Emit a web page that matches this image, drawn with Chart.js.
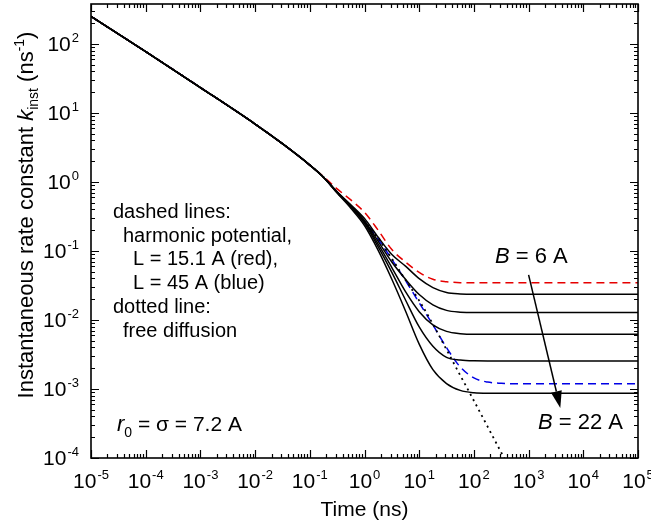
<!DOCTYPE html>
<html>
<head>
<meta charset="utf-8">
<script src="https://cdn.jsdelivr.net/npm/chart.js@4.4.0/dist/chart.umd.min.js"></script>
<style>
  html, body { margin: 0; padding: 0; background: #fff; }
  #wrap { width: 651px; height: 526px; }
</style>
</head>
<body>
<div id="wrap"><canvas id="rate-chart" width="651" height="526"></canvas></div>
<script>
// time axis (ns) shared by all curves
const times = [1e-5, 1e-4, 1e-3, 1e-2, 0.0316, 0.1, 0.178, 0.316, 0.562, 1, 1.78, 3.16, 5.62, 10, 17.8, 31.6, 56.2, 100, 178, 316, 1000, 1e4, 1e5];

// k_inst (ns^-1)
const freeDiffusion = [251, 77.6, 23.4, 6.92, 3.59, 1.76, 1.175, 0.708, 0.447, 0.269, 0.151, 0.0776, 0.038, 0.0191, 0.0087, 0.00372, 0.00158, 0.000676, 0.000285, 0.00012, 0.0000214, null, null];
const harmonicRed  = [251, 77.6, 23.4, 6.92, 3.59, 1.76, 1.20, 0.794, 0.550, 0.363, 0.200, 0.105, 0.0692, 0.0490, 0.0389, 0.0359, 0.0348, 0.0347, 0.0347, 0.0347, 0.0347, 0.0347, 0.0347];
const harmonicBlue = [251, 77.6, 23.4, 6.92, 3.59, 1.76, 1.175, 0.708, 0.447, 0.269, 0.148, 0.0759, 0.0372, 0.0178, 0.0085, 0.00398, 0.00209, 0.00145, 0.00126, 0.00121, 0.00119, 0.00119, 0.00119];
const b6  = [251, 77.6, 23.4, 6.92, 3.59, 1.76, 1.175, 0.724, 0.468, 0.295, 0.158, 0.0891, 0.0603, 0.0398, 0.0295, 0.0251, 0.0239, 0.0236, 0.0236, 0.0236, 0.0236, 0.0236, 0.0236];
const b2  = [251, 77.6, 23.4, 6.92, 3.59, 1.76, 1.175, 0.716, 0.457, 0.275, 0.138, 0.0692, 0.0389, 0.0234, 0.0166, 0.0138, 0.0130, 0.0128, 0.0128, 0.0128, 0.0128, 0.0128, 0.0128];
const b3  = [251, 77.6, 23.4, 6.92, 3.59, 1.76, 1.175, 0.708, 0.447, 0.263, 0.126, 0.0575, 0.0257, 0.0132, 0.0085, 0.00684, 0.00634, 0.0062, 0.0062, 0.0062, 0.0062, 0.0062, 0.0062];
const b4  = [251, 77.6, 23.4, 6.92, 3.59, 1.76, 1.175, 0.700, 0.437, 0.251, 0.115, 0.0490, 0.0195, 0.00794, 0.00417, 0.00288, 0.00263, 0.00256, 0.00255, 0.00255, 0.00255, 0.00255, 0.00255];
const b22 = [251, 77.6, 23.4, 6.92, 3.59, 1.76, 1.175, 0.692, 0.417, 0.234, 0.102, 0.0389, 0.0135, 0.00447, 0.00191, 0.00120, 0.000955, 0.000881, 0.000867, 0.000867, 0.000867, 0.000867, 0.000867];

// decade exponents used for the tick labels
const xTickExps = [-5, -4, -3, -2, -1, 0, 1, 2, 3, 4, 5];
const yTickExps = [-4, -3, -2, -1, 0, 1, 2];

// arrow from B = 6 A to B = 22 A, in data units
const arrowFrom = {x: 1000, y: 0.045};
const arrowTo = {x: 3800, y: 0.00053};

const FONT = '"Liberation Sans", Arial, sans-serif';

function toPoints(vals) {
    return times.map((t, i) => ({x: t, y: vals[i]}));
}

function line(label, vals, color, dash, width) {
    return {
        label: label,
        data: toPoints(vals),
        borderColor: color,
        borderWidth: width || 1.5,
        borderDash: dash || [],
        pointRadius: 0,
        fill: false,
        cubicInterpolationMode: 'monotone'
    };
}

// draws "10" with a raised exponent, anchored at x by align
function drawPow(ctx, exp, x, base, align) {
    const big = '21px ' + FONT, small = '13px ' + FONT;
    const e = String(exp);
    ctx.font = big;
    const w1 = ctx.measureText('10').width;
    ctx.font = small;
    const w2 = ctx.measureText(e).width + 1;
    let left = x;
    if (align === 'center') left = x - (w1 + w2) / 2;
    if (align === 'right') left = x - (w1 + w2);
    ctx.textAlign = 'left';
    ctx.textBaseline = 'alphabetic';
    ctx.font = big;
    ctx.fillText('10', left, base);
    ctx.font = small;
    ctx.fillText(e, left + w1 + 1, base - 9);
}

// draws a run of [text, font, dy] pieces from x
function drawRun(ctx, pieces, x, y) {
    ctx.textAlign = 'left';
    ctx.textBaseline = 'alphabetic';
    let cx = x;
    pieces.forEach(p => {
        ctx.font = p[1];
        ctx.fillText(p[0], cx, y + (p[2] || 0));
        cx += ctx.measureText(p[0]).width;
    });
    return cx - x;
}

function runWidth(ctx, pieces) {
    let w = 0;
    pieces.forEach(p => { ctx.font = p[1]; w += ctx.measureText(p[0]).width; });
    return w;
}

const framePlugin = {
    id: 'frame',
    afterDatasetsDraw(chart) {
        const {ctx, chartArea: a, scales: {x, y}} = chart;
        ctx.save();
        ctx.strokeStyle = '#000';
        ctx.fillStyle = '#000';

        // inward ticks on all four sides
        ctx.lineWidth = 1.2;
        ctx.beginPath();
        for (let e = -5; e <= 5; e++) {
            for (let m = 1; m < 10; m++) {
                const v = m * Math.pow(10, e);
                if (v > x.max * 1.0001) break;
                const px = Math.round(x.getPixelForValue(v)) + 0.5;
                const len = m === 1 ? 8 : 4;
                ctx.moveTo(px, a.bottom); ctx.lineTo(px, a.bottom - len);
                ctx.moveTo(px, a.top); ctx.lineTo(px, a.top + len);
            }
        }
        for (let e = -4; e <= 2; e++) {
            for (let m = 1; m < 10; m++) {
                const v = m * Math.pow(10, e);
                if (v > y.max * 1.0001) break;
                const py = Math.round(y.getPixelForValue(v)) + 0.5;
                const len = m === 1 ? 8 : 4;
                ctx.moveTo(a.left, py); ctx.lineTo(a.left + len, py);
                ctx.moveTo(a.right, py); ctx.lineTo(a.right - len, py);
            }
        }
        ctx.stroke();

        // frame
        ctx.lineWidth = 1.6;
        ctx.strokeRect(a.left, a.top, a.right - a.left, a.bottom - a.top);

        // tick labels
        xTickExps.forEach(e => drawPow(ctx, e, x.getPixelForValue(Math.pow(10, e)), a.bottom + 30, 'center'));
        yTickExps.forEach(e => drawPow(ctx, e, a.left - 12, y.getPixelForValue(Math.pow(10, e)) + 7, 'right'));

        // axis titles
        ctx.font = '21px ' + FONT;
        ctx.textAlign = 'center';
        ctx.fillText('Time (ns)', (a.left + a.right) / 2, a.bottom + 58);

        const title = [
            ['Instantaneous rate constant ', '22px ' + FONT],
            ['k', 'italic 22px ' + FONT],
            ['inst', '14px ' + FONT, 5],
            [' (ns', '22px ' + FONT],
            ['-1', '14px ' + FONT, -9],
            [')', '22px ' + FONT]
        ];
        ctx.save();
        ctx.translate(33, 215);
        ctx.rotate(-Math.PI / 2);
        drawRun(ctx, title, -runWidth(ctx, title) / 2, 0);
        ctx.restore();

        // notes
        const f = '20px ' + FONT;
        const notes = [
            ['dashed lines:', 0],
            ['harmonic potential,', 10],
            ['L = 15.1 A (red),', 20],
            ['L = 45 A (blue)', 20],
            ['dotted line:', 0],
            ['free diffusion', 10]
        ];
        notes.forEach((n, i) => drawRun(ctx, [[n[0], f]], a.left + 22 + n[1], 218 + i * 23.7));

        const g = '22px ' + FONT, gi = 'italic 22px ' + FONT, gs = '14px ' + FONT;
        drawRun(ctx, [['r', gi], ['0', gs, 6], [' = \u03c3 = 7.2 A', '21px ' + FONT]], a.left + 26, 431);
        drawRun(ctx, [['B', gi], [' = 6 A', g]], 495, 263);
        drawRun(ctx, [['B', gi], [' = 22 A', g]], 538, 429);

        // arrow
        const x0 = x.getPixelForValue(arrowFrom.x), y0 = y.getPixelForValue(arrowFrom.y);
        const x1 = x.getPixelForValue(arrowTo.x), y1 = y.getPixelForValue(arrowTo.y);
        const ang = Math.atan2(y1 - y0, x1 - x0);
        const hl = 17, hw = 5.5;
        const bx = x1 - hl * Math.cos(ang), by = y1 - hl * Math.sin(ang);
        ctx.lineWidth = 1.5;
        ctx.beginPath();
        ctx.moveTo(x0, y0);
        ctx.lineTo(bx, by);
        ctx.stroke();
        ctx.beginPath();
        ctx.moveTo(x1, y1);
        ctx.lineTo(bx + hw * Math.sin(ang), by - hw * Math.cos(ang));
        ctx.lineTo(bx - hw * Math.sin(ang), by + hw * Math.cos(ang));
        ctx.closePath();
        ctx.fill();

        ctx.restore();
    }
};

const ctx = document.getElementById('rate-chart').getContext('2d');
new Chart(ctx, {
    type: 'line',
    data: {
        datasets: [
            line('free diffusion', freeDiffusion, '#000', [2, 4], 1.8),
            line('B = 6 A', b6, '#000'),
            line('B2', b2, '#000'),
            line('B3', b3, '#000'),
            line('B4', b4, '#000'),
            line('B = 22 A', b22, '#000'),
            line('L = 45 A', harmonicBlue, 'rgb(0,0,230)', [8, 5]),
            line('L = 15.1 A', harmonicRed, 'rgb(230,0,0)', [8, 5])
        ]
    },
    options: {
        responsive: false,
        animation: false,
        layout: {padding: {left: 91, right: 13, top: 4, bottom: 68}},
        plugins: {legend: {display: false}, tooltip: {enabled: false}},
        scales: {
            x: {type: 'logarithmic', min: 1e-5, max: 1e5, display: false},
            y: {type: 'logarithmic', min: 1e-4, max: 380, display: false}
        }
    },
    plugins: [framePlugin]
});
</script>
</body>
</html>
